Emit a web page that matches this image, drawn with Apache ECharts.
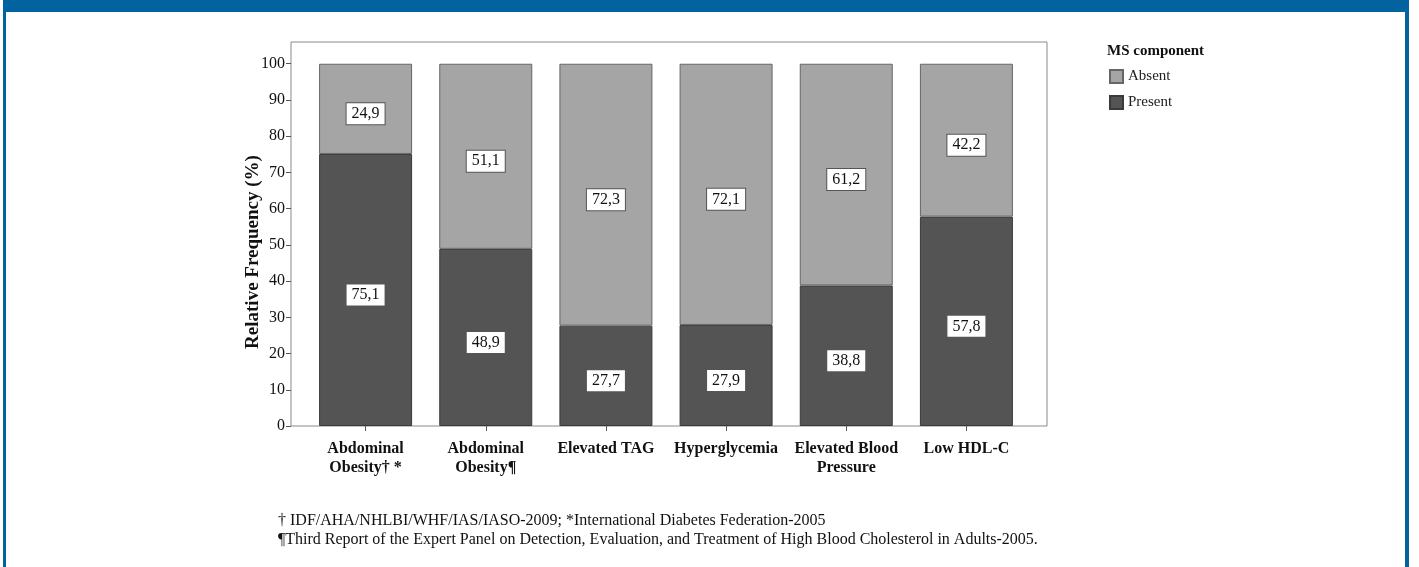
<!DOCTYPE html>
<html>
<head>
<meta charset="utf-8">
<script src="https://cdn.jsdelivr.net/npm/echarts@6/dist/echarts.min.js"></script>
<style>
html,body{margin:0;padding:0;background:#fff;}
#chart{width:1419px;height:567px;}
</style>
</head>
<body>
<div id="chart"></div>
<script>
const categories = ['Abdominal\nObesity\u2020 *', 'Abdominal\nObesity\u00b6', 'Elevated TAG', 'Hyperglycemia', 'Elevated Blood\nPressure', 'Low HDL-C'];
const presentValues = [75.1, 48.9, 27.7, 27.9, 38.8, 57.8];
const absentValues = [24.9, 51.1, 72.3, 72.1, 61.2, 42.2];
const yTicks = [0, 10, 20, 30, 40, 50, 60, 70, 80, 90, 100];
const seriesNames = ['Present', 'Absent'];
const legendTitle = 'MS component';
const yTitle = 'Relative Frequency (%)';
const footnotes = [
  '\u2020 IDF/AHA/NHLBI/WHF/IAS/IASO-2009; *International Diabetes Federation-2005',
  '\u00b6Third Report of the Expert Panel on Detection, Evaluation, and Treatment of High Blood Cholesterol in Adults-2005.'
];

const serif = '"Liberation Serif", "DejaVu Serif", serif';
const blue = '#0362a0';

const chart = echarts.init(document.getElementById('chart'), null, {renderer: 'canvas'});

const labelCfg = {
  show: true,
  position: 'inside',
  offset: [0, 5],
  formatter: p => p.value.toFixed(1).replace('.', ','),
  fontFamily: serif,
  fontSize: 16,
  color: '#111',
  backgroundColor: '#fff',
  borderColor: '#555',
  borderWidth: 1,
  padding: [3, 5, 2, 5]
};

const option = {
  animation: false,
  backgroundColor: '#fff',
  title: {
    text: legendTitle,
    left: 1102, top: 39,
    textStyle: {fontFamily: serif, fontSize: 15, fontWeight: 'bold', color: '#111'}
  },
  legend: {
    data: ['Absent', 'Present'],
    orient: 'vertical',
    left: 1104, top: 64,
    icon: 'rect',
    itemWidth: 13, itemHeight: 13, itemGap: 11,
    textStyle: {fontFamily: serif, fontSize: 15, color: '#222'}
  },
  grid: [
    {left: 291, right: 372, top: 42, bottom: 141, show: true, borderColor: '#8a8a8a', borderWidth: 1, backgroundColor: 'transparent'},
    {left: 305.5, right: 392.5, top: 42, bottom: 141}
  ],
  xAxis: [
    {gridIndex: 0, type: 'value', show: false, min: 0, max: 1},
    {
      gridIndex: 1, type: 'category', data: categories,
      axisLine: {show: false},
      axisTick: {show: true, alignWithLabel: true, length: 5, lineStyle: {color: '#555'}},
      axisLabel: {fontFamily: serif, fontSize: 16, fontWeight: 'bold', color: '#111', lineHeight: 19, margin: 13, interval: 0}
    }
  ],
  yAxis: [
    {
      gridIndex: 0, type: 'value', min: 0, max: 106,
      axisLine: {show: false},
      splitLine: {show: false},
      axisTick: {show: true, length: 5, lineStyle: {color: '#555'}, customValues: yTicks},
      axisLabel: {fontFamily: serif, fontSize: 16, color: '#111', margin: 6, customValues: yTicks}
    },
    {gridIndex: 1, type: 'value', min: 0, max: 106, show: false, splitLine: {show: false}}
  ],
  series: [
    {
      name: seriesNames[0], type: 'bar', stack: 'ms', xAxisIndex: 1, yAxisIndex: 1,
      data: presentValues, barWidth: 93,
      itemStyle: {color: '#545454', borderColor: '#3a3a3a', borderWidth: 1},
      label: labelCfg
    },
    {
      name: seriesNames[1], type: 'bar', stack: 'ms', xAxisIndex: 1, yAxisIndex: 1,
      data: absentValues, barWidth: 93,
      itemStyle: {color: '#a5a5a5', borderColor: '#666', borderWidth: 1},
      label: labelCfg
    }
  ],
  graphic: [
    {type: 'rect', shape: {x: 3, y: 0, width: 1406, height: 12}, style: {fill: blue}, silent: true},
    {type: 'rect', shape: {x: 3, y: 0, width: 3, height: 567}, style: {fill: blue}, silent: true},
    {type: 'rect', shape: {x: 1405, y: 0, width: 4, height: 567}, style: {fill: blue}, silent: true},
    {
      type: 'text', x: 253, y: 252, rotation: Math.PI / 2,
      style: {text: yTitle, fontFamily: serif, fontSize: 19, fontWeight: 'bold', fill: '#111', textAlign: 'center', textVerticalAlign: 'middle'}
    },
    {
      type: 'text', x: 278, y: 521,
      style: {text: footnotes[0], fontFamily: serif, fontSize: 16, fill: '#111', textAlign: 'left', textVerticalAlign: 'middle'}
    },
    {
      type: 'text', x: 278, y: 540,
      style: {text: footnotes[1], fontFamily: serif, fontSize: 16, fill: '#111', textAlign: 'left', textVerticalAlign: 'middle'}
    }
  ]
};
chart.setOption(option);
</script>
</body>
</html>
